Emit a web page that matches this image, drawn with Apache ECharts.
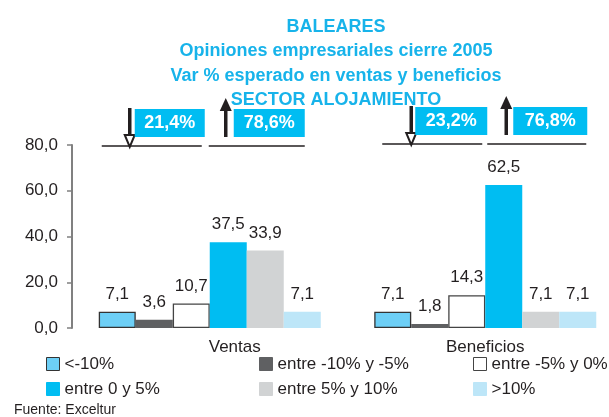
<!DOCTYPE html>
<html>
<head>
<meta charset="utf-8">
<title>Baleares - opiniones empresariales 2005</title>
<script src="https://cdn.jsdelivr.net/npm/echarts@6/dist/echarts.min.js"></script>
<style>
  html, body { margin: 0; padding: 0; background: #fff; }
  #main { width: 609px; height: 417px; }
</style>
</head>
<body>
<div id="main"></div>
<script type="text/javascript">
    // datos
    var categorias = ['Ventas', 'Beneficios'];
    var nombres = ['<-10%', 'entre -10% y -5%', 'entre -5% y 0%', 'entre 0 y 5%', 'entre 5% y 10%', '>10%'];
    var menos10 = [7.1, 7.1];
    var entre10y5 = [3.6, 1.8];
    var entre5y0 = [10.7, 14.3];
    var entre0y5 = [37.5, 62.5];
    var entre5y10 = [33.9, 7.1];
    var mas10 = [7.1, 7.1];
    var bajan = ['21,4%', '23,2%'];
    var suben = ['78,6%', '76,8%'];
    var ejeY = { min: 0, max: 80, interval: 20 };

    var colores = ['#6dcff6', '#5f6062', '#ffffff', '#00bdf2', '#d1d3d4', '#bde6f8'];
    var bordes = ['#333333', '#5f6062', '#444444', null, null, null];
    var texto = '#231f20';
    var fuente = 'Liberation Sans, Arial, sans-serif';

    function coma(v, d) {
        return Number(v).toFixed(d).replace('.', ',');
    }

    var valores = [menos10, entre10y5, entre5y0, entre0y5, entre5y10, mas10];
    var series = valores.map(function (datos, i) {
        return {
            name: nombres[i],
            type: 'bar',
            data: datos,
            barWidth: 37,
            barGap: '0%',
            itemStyle: {
                color: colores[i],
                borderColor: bordes[i] || colores[i],
                borderWidth: bordes[i] ? 1.3 : 0
            },
            label: {
                show: true,
                position: 'top',
                distance: 9,
                color: texto,
                fontSize: 17,
                fontFamily: fuente,
                formatter: function (p) { return coma(p.value, 1); }
            }
        };
    });

    var myChart = echarts.init(document.getElementById('main'));
    var option = {
        animation: false,
        backgroundColor: '#fff',
        title: {
            text: 'BALEARES\nOpiniones empresariales cierre 2005\nVar % esperado en ventas y beneficios\nSECTOR ALOJAMIENTO',
            left: 331,
            top: 10,
            textAlign: 'center',
            textStyle: {
                color: '#17b3ea',
                fontSize: 18,
                fontWeight: 'bold',
                lineHeight: 24.3,
                fontFamily: fuente
            }
        },
        legend: [
            { data: [nombres[0], nombres[3]], left: 46, top: 354 },
            { data: [nombres[1], nombres[4]], left: 259, top: 354 },
            { data: [nombres[2], nombres[5]], left: 473, top: 354 }
        ].map(function (l) {
            l.orient = 'vertical';
            l.itemWidth = 13;
            l.itemHeight = 13;
            l.itemGap = 5;
            l.padding = 0;
            l.icon = 'rect';
            l.itemStyle = { borderWidth: 1 };
            l.textStyle = { color: texto, fontSize: 17, lineHeight: 20, fontFamily: fuente };
            return l;
        }),
        grid: {
            left: 72,
            top: 145,
            width: 551,
            height: 183,
            containLabel: false,
            outerBoundsMode: 'none'
        },
        xAxis: {
            type: 'category',
            data: categorias,
            axisLine: { show: false },
            axisTick: { show: false },
            axisLabel: {
                margin: 11,
                color: texto,
                fontSize: 17,
                fontFamily: fuente,
                formatter: function (v) {
                    return v === 'Ventas' ? '{v|' + v + '}' : '{b|' + v + '}';
                },
                rich: {
                    v: { padding: [0, 0, 0, 50], fontSize: 17, color: texto, fontFamily: fuente },
                    b: { fontSize: 17, color: texto, fontFamily: fuente }
                }
            }
        },
        yAxis: {
            type: 'value',
            min: ejeY.min,
            max: ejeY.max,
            interval: ejeY.interval,
            splitLine: { show: false },
            axisLine: { show: true, lineStyle: { color: '#808080', width: 2 } },
            axisTick: { show: true, length: 5, lineStyle: { color: '#808080', width: 1.5 } },
            axisLabel: {
                margin: 14,
                color: texto,
                fontSize: 17,
                fontFamily: fuente,
                formatter: function (v) { return coma(v, 1); }
            }
        },
        series: series
    };
    myChart.setOption(option);

    // flechas y recuadros sobre cada grupo
    function flechas() {
        var g = [];
        var yTop = myChart.convertToPixel({ yAxisIndex: 0 }, ejeY.max);
        // desplazamientos respecto al centro de cada grupo
        var capas = [
            { l1: [-108, -8], l2: [-1, 95], ly: 1, abajo: -80, b1: [-75, -5], arriba: 16, b2: [24, 95], by: -36 },
            { l1: [-103, -3], l2: [2, 101], ly: -1, abajo: -74, b1: [-70, 2], arriba: 21, b2: [28, 102], by: -38 }
        ];
        categorias.forEach(function (c, i) {
            var cx = myChart.convertToPixel({ xAxisIndex: 0 }, c);
            var k = capas[i];
            var ly = yTop + k.ly;
            var by = yTop + k.by;
            [k.l1, k.l2].forEach(function (seg) {
                g.push({ type: 'line', shape: { x1: cx + seg[0], y1: ly, x2: cx + seg[1], y2: ly },
                    style: { stroke: '#231f20', lineWidth: 1.5 } });
            });
            // flecha hacia abajo
            var xa = cx + k.abajo;
            g.push({ type: 'line', shape: { x1: xa, y1: by - 1, x2: xa, y2: ly - 11 },
                style: { stroke: '#231f20', lineWidth: 3.5 } });
            g.push({ type: 'polygon', shape: { points: [[xa - 5, ly - 11], [xa + 5, ly - 11], [xa, ly + 1]] },
                style: { fill: '#fff', stroke: '#231f20', lineWidth: 2 } });
            // flecha hacia arriba
            var xb = cx + k.arriba;
            g.push({ type: 'line', shape: { x1: xb, y1: by + 1, x2: xb, y2: by + 28 },
                style: { stroke: '#231f20', lineWidth: 3.5 } });
            g.push({ type: 'polygon', shape: { points: [[xb - 6, by + 2], [xb + 6, by + 2], [xb, by - 11]] },
                style: { fill: '#231f20' } });
            // recuadros
            [[k.b1, bajan[i]], [k.b2, suben[i]]].forEach(function (b) {
                g.push({ type: 'rect', shape: { x: cx + b[0][0], y: by, width: b[0][1] - b[0][0], height: 28 },
                    style: { fill: '#00bdf2' } });
                g.push({ type: 'text', x: cx + (b[0][0] + b[0][1]) / 2, y: by + 14,
                    style: { text: b[1], fill: '#fff', fontSize: 18, fontWeight: 'bold', fontFamily: fuente,
                        align: 'center', verticalAlign: 'middle' } });
            });
        });
        g.push({ type: 'text', left: 14, top: 403,
            style: { text: 'Fuente: Exceltur', fill: texto, fontSize: 14, fontFamily: fuente } });
        return g;
    }
    myChart.setOption({ graphic: flechas() });
</script>
</body>
</html>
